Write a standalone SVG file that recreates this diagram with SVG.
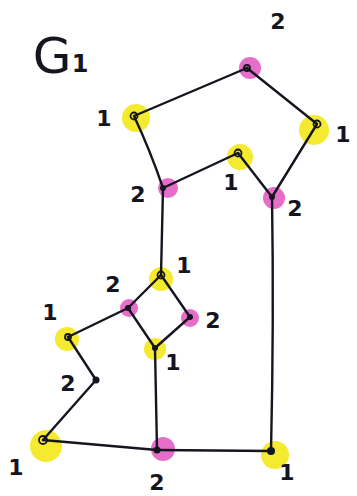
<svg xmlns="http://www.w3.org/2000/svg" width="357" height="496" viewBox="0 0 357 496">
<style>
.y{fill:#f3e81a;opacity:0.9}
.p{fill:#e255bf;opacity:0.85}
.e{stroke:#15151f;stroke-width:2.4;fill:none;stroke-linecap:round}
.v{fill:none;stroke:#15151f;stroke-width:1.8}
.d{fill:#15151f}
.t{font-family:"DejaVu Sans","Liberation Sans",sans-serif;font-size:22px;font-weight:bold;fill:#15151f;text-anchor:middle}
</style>
<rect width="357" height="496" fill="#fff"/>
<text x="52" y="73" style="font-family:'DejaVu Sans',sans-serif;font-size:50px;fill:#15151f;text-anchor:middle">G</text>
<text x="80" y="72" class="t" style="font-size:24px">1</text>
<g id="highlights">
<circle class="p" cx="250" cy="68" r="11"/>
<circle class="y" cx="136" cy="118" r="14"/>
<circle class="y" cx="314" cy="130" r="15"/>
<circle class="y" cx="240" cy="157" r="13"/>
<circle class="p" cx="168" cy="188" r="10"/>
<circle class="p" cx="274" cy="198" r="11"/>
<circle class="y" cx="161" cy="279" r="12"/>
<circle class="p" cx="129" cy="308" r="9"/>
<circle class="p" cx="190" cy="318" r="9"/>
<circle class="y" cx="155" cy="349" r="11"/>
<circle class="y" cx="67" cy="339" r="12"/>
<circle class="y" cx="46" cy="446" r="16"/>
<circle class="p" cx="163" cy="449" r="12"/>
<circle class="y" cx="275" cy="455" r="14"/>
</g>
<g id="connectors">
<path class="e" d="M134 116 L247 68"/>
<path class="e" d="M247 68 L317 124"/>
<path class="e" d="M134 116 Q150 150 163 188"/>
<path class="e" d="M163 188 L238 153"/>
<path class="e" d="M238 153 L272 197"/>
<path class="e" d="M317 124 L272 197"/>
<path class="e" d="M163 188 L161 275"/>
<path class="e" d="M272 197 Q274 320 271 451"/>
<path class="e" d="M161 275 L128 308"/>
<path class="e" d="M161 275 L190 317"/>
<path class="e" d="M128 308 L155 348"/>
<path class="e" d="M190 317 L155 348"/>
<path class="e" d="M128 308 L68 337"/>
<path class="e" d="M68 337 L96 380"/>
<path class="e" d="M96 380 L43 440"/>
<path class="e" d="M155 348 L157 450"/>
<path class="e" d="M43 440 L157 450"/>
<path class="e" d="M157 450 L271 451"/>
</g>
<g id="n1"><circle class="v" cx="247" cy="68" r="3"/><text class="t" x="278" y="29">2</text></g>
<g id="n2"><circle class="v" cx="134" cy="116" r="3.5"/><text class="t" x="104" y="126">1</text></g>
<g id="n3"><circle class="v" cx="317" cy="124" r="3.5"/><text class="t" x="343" y="142">1</text></g>
<g id="n4"><circle class="v" cx="238" cy="153" r="3.5"/><text class="t" x="231" y="190">1</text></g>
<g id="n5"><circle class="d" cx="163" cy="188" r="3"/><text class="t" x="138" y="202">2</text></g>
<g id="n6"><circle class="d" cx="272" cy="197" r="3"/><text class="t" x="295" y="216">2</text></g>
<g id="n7"><circle class="v" cx="161" cy="275" r="3.5"/><text class="t" x="184" y="273">1</text></g>
<g id="n8"><circle class="d" cx="128" cy="308" r="3"/><text class="t" x="113" y="292">2</text></g>
<g id="n9"><circle class="d" cx="190" cy="317" r="3"/><text class="t" x="213" y="328">2</text></g>
<g id="n10"><circle class="d" cx="155" cy="348" r="3"/><text class="t" x="173" y="370">1</text></g>
<g id="n11"><circle class="v" cx="68" cy="337" r="3"/><text class="t" x="50" y="320">1</text></g>
<g id="n12"><circle class="d" cx="96" cy="380" r="3.5"/><text class="t" x="68" y="391">2</text></g>
<g id="n13"><circle class="v" cx="43" cy="440" r="4"/><text class="t" x="16" y="475">1</text></g>
<g id="n14"><circle class="d" cx="157" cy="450" r="3.5"/><text class="t" x="157" y="490">2</text></g>
<g id="n15"><circle class="d" cx="271" cy="451" r="4"/><text class="t" x="287" y="480">1</text></g>
</svg>
